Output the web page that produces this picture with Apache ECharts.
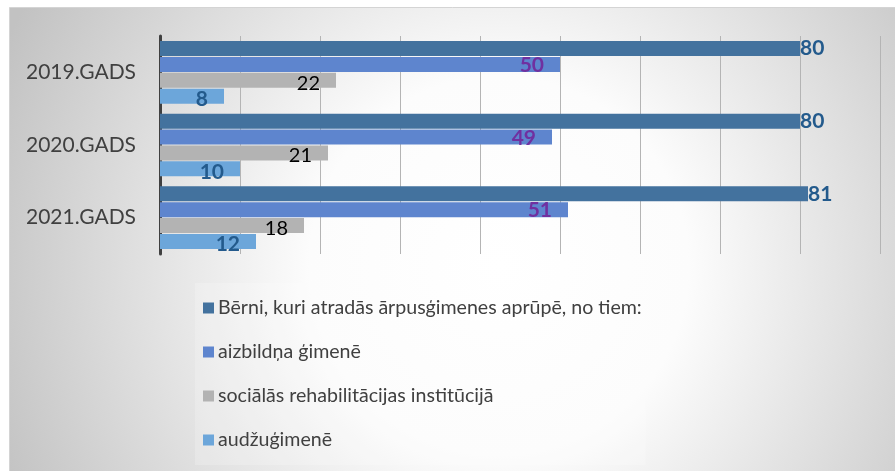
<!DOCTYPE html>
<html>
<head>
<meta charset="utf-8">
<script src="https://cdn.jsdelivr.net/npm/echarts@6/dist/echarts.min.js"></script>
<style>
    html, body { margin: 0; padding: 0; background: #ffffff; }
    #chart_bernu { width: 895px; height: 471px; }
</style>
</head>
<body>
<div id="chart_bernu"></div>
<script>
var gadi = ['2019.GADS', '2020.GADS', '2021.GADS'];
var nosaukumi = ['Bērni, kuri atradās ārpusģimenes aprūpē, no tiem:', 'aizbildņa ģimenē', 'sociālās rehabilitācijas institūcijā', 'audžuģimenē'];
var kopa = [80, 80, 81];
var aizbildni = [50, 49, 51];
var institucijas = [22, 21, 18];
var audzugimenes = [8, 10, 12];

var fonts = 'Lato, "Open Sans", sans-serif';

function init_bernu() {
    var chart_bernu = echarts.init(document.getElementById('chart_bernu'));

    // uzraksts bāra iekšpusē pie labās malas
    function iekseja(color, bold, dy) {
        return {
            show: true,
            position: 'insideRight',
            distance: 16,
            offset: [0, dy],
            color: color,
            fontFamily: fonts,
            fontWeight: bold ? 'bold' : 'normal',
            fontSize: bold ? 21 : 20
        };
    }

    var option = {
        animation: false,
        graphic: [{
            type: 'rect',
            z: -10,
            silent: true,
            shape: {x: 9.5, y: 7.5, width: 890, height: 470},
            style: {
                fill: new echarts.graphic.RadialGradient(0.55, 0.55, 1.15, [
                    {offset: 0, color: '#ffffff'},
                    {offset: 0.35, color: '#fcfcfc'},
                    {offset: 1, color: '#c2c2c2'}
                ]),
                stroke: '#d4d4d4',
                lineWidth: 1
            }
        }],
        legend: {
            orient: 'vertical',
            left: 195,
            top: 283,
            padding: [13, 4, 13, 8],
            backgroundColor: 'rgba(255,255,255,0.2)',
            icon: 'rect',
            itemWidth: 11,
            itemHeight: 11,
            itemGap: 20,
            textStyle: {color: '#404040', fontFamily: fonts, fontSize: 19.6, lineHeight: 24, padding: [0, 0, 0, -1]},
            data: nosaukumi
        },
        grid: {left: 160, right: 15, top: 36, bottom: 217},
        xAxis: {
            type: 'value',
            min: 0,
            max: 90,
            interval: 10,
            axisLabel: {show: false},
            axisLine: {show: false},
            axisTick: {show: false},
            splitLine: {lineStyle: {color: '#b4b4b4', width: 1}}
        },
        yAxis: {
            type: 'category',
            inverse: true,
            data: gadi,
            axisTick: {show: false},
            axisLine: {lineStyle: {color: '#404040', width: 3}},
            axisLabel: {color: '#404040', fontFamily: fonts, fontSize: 21, margin: 24}
        },
        series: [
            {
                name: nosaukumi[0],
                type: 'bar',
                barWidth: 15,
                barGap: '6%',
                data: kopa,
                itemStyle: {color: '#43729e'},
                label: {show: true, position: 'right', distance: 0, color: '#235a8c', fontFamily: fonts, fontWeight: 'bold', fontSize: 21}
            },
            {
                name: nosaukumi[1],
                type: 'bar',
                barWidth: 15,
                barGap: '6%',
                data: aizbildni,
                itemStyle: {color: '#5e85ce'},
                label: iekseja('#7030a0', true, 1)
            },
            {
                name: nosaukumi[2],
                type: 'bar',
                barWidth: 15,
                barGap: '6%',
                data: institucijas,
                itemStyle: {color: '#b3b3b3'},
                label: iekseja('#000000', false, 3)
            },
            {
                name: nosaukumi[3],
                type: 'bar',
                barWidth: 15,
                barGap: '6%',
                data: audzugimenes,
                itemStyle: {color: '#6ca6da'},
                label: iekseja('#235a8c', true, 3)
            }
        ]
    };
    chart_bernu.setOption(option);
}

init_bernu();
</script>
</body>
</html>
